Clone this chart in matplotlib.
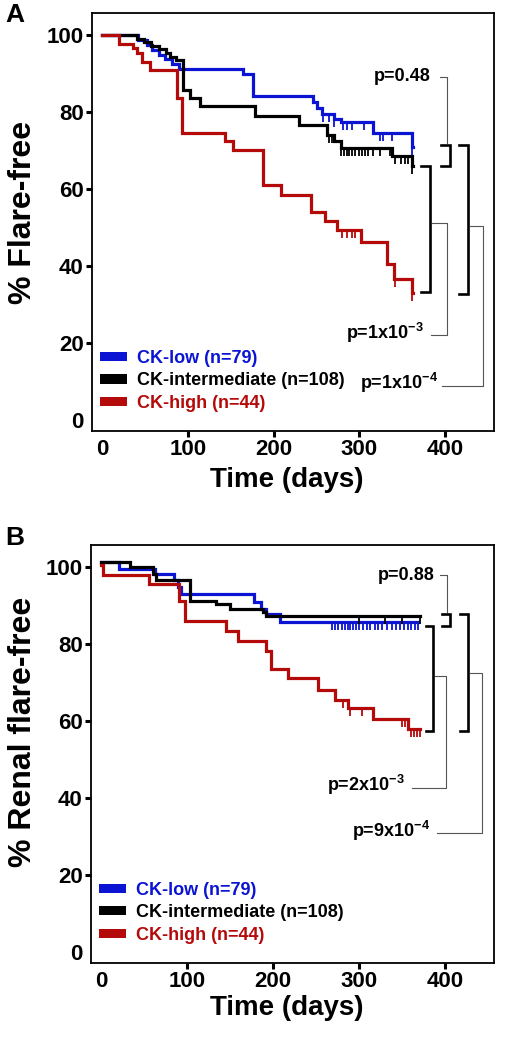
import numpy as np
import matplotlib
matplotlib.use("Agg")
import matplotlib.pyplot as plt
from matplotlib.patches import Patch

plt.rcParams['font.family'] = ['Liberation Sans', 'DejaVu Sans']
plt.rcParams['font.weight'] = 'bold'
plt.rcParams['mathtext.fontset'] = 'custom'
plt.rcParams['mathtext.rm'] = 'Liberation Sans:bold'
plt.rcParams['mathtext.bf'] = 'Liberation Sans:bold'

# ---- data: panel A (any flare) ----
groups = ["CK-low (n=79)", "CK-intermediate (n=108)", "CK-high (n=44)"]
colors = ["#0a14d2", "#000000", "#b50a0a"]

a_low_t = [0, 42, 52, 58, 66, 73, 81, 90, 164, 176, 246, 250, 256, 270, 278, 316, 361, 362]
a_low_s = [100, 98.7, 97.5, 96.2, 94.9, 93.7, 92.4, 91.1, 89.9, 84.2, 82.5, 81.0, 79.6, 78.2, 77.4, 74.6, 71.0, 71.0]
a_low_c = [258, 264, 270, 281, 285, 291, 305, 324, 328, 338, 361]

a_mid_t = [0, 41, 49, 57, 66, 74, 79, 86, 94, 102, 114, 178, 229, 262, 270, 278, 291, 338, 361, 362]
a_mid_s = [100, 99.1, 98.1, 97.2, 96.3, 95.4, 94.4, 93.5, 85.8, 83.6, 81.6, 78.9, 76.7, 74.1, 72.4, 70.7, 70.7, 68.5, 66.0, 66.0]
a_mid_c = [264, 268, 279, 282, 285, 288, 291, 295, 299, 303, 307, 310, 316, 324, 336, 342, 348, 353, 357, 361]

a_high_t = [0, 19, 36, 40, 46, 56, 87, 93, 143, 153, 187, 208, 243, 260, 274, 302, 332, 340, 361, 362]
a_high_s = [100, 97.7, 96.6, 95.3, 93.1, 90.9, 83.6, 74.6, 72.5, 70.2, 61.2, 58.6, 54.0, 51.7, 49.3, 46.3, 40.5, 36.6, 33.0, 33.0]
a_high_c = [280, 285, 291, 295, 342, 361]

a_pvals = ["p=0.48", r"p=1x10$^{-3}$", r"p=1x10$^{-4}$"]

# ---- data: panel B (renal flare) ----
b_low_t = [0, 21, 62, 85, 89, 93, 178, 186, 192, 208, 369]
b_low_s = [101.3, 99.6, 98.3, 96.5, 94.8, 93.0, 90.8, 89.1, 87.8, 85.8, 85.8]
b_low_c = [268, 272, 276, 280, 284, 287, 290, 293, 296, 300, 305, 309, 313, 318, 322,
           327, 332, 338, 343, 348, 352, 357, 361, 365, 369]

b_mid_t = [0, 33, 60, 64, 103, 134, 150, 188, 192, 371]
b_mid_s = [101.3, 100.0, 98.3, 96.5, 91.3, 90.4, 89.1, 88.2, 87.4, 87.4]
b_mid_c = [300, 330, 350, 371]

b_high_t = [0, 2, 56, 91, 97, 145, 159, 192, 198, 217, 252, 272, 287, 316, 357, 371]
b_high_s = [100.5, 97.8, 95.6, 91.3, 86.1, 83.5, 80.9, 78.3, 73.5, 71.2, 68.1, 65.6, 63.3, 60.5, 57.9, 57.9]
b_high_c = [281, 289, 304, 350, 354, 360, 364, 368, 371]

b_pvals = ["p=0.88", r"p=2x10$^{-3}$", r"p=9x10$^{-4}$"]

x_ticks = [0, 100, 200, 300, 400]
y_ticks = [0, 20, 40, 60, 80, 100]


def km(ax, t, s, cens, color):
    t = np.asarray(t, float)
    s = np.asarray(s, float)
    ax.step(t, s, where='post', color=color, lw=2.3, solid_joinstyle='miter', zorder=3)
    idx = np.searchsorted(t, cens, side='right') - 1
    idx = np.clip(idx, 0, len(s) - 1)
    ax.plot(cens, s[idx], ls='none', marker=3, ms=6, mew=1.3, color=color, zorder=3)


def bracket(ax, x, y0, y1, arm):
    ax.plot([x - arm, x, x, x - arm], [y0, y0, y1, y1], color='black', lw=1.9,
            solid_joinstyle='miter', clip_on=False, zorder=4)


def connector(ax, xs, ys):
    ax.plot(xs, ys, color='#555555', lw=0.8, clip_on=False, zorder=2)


def style(ax, ylabel, ylab_x, ylab_y, xlab_y):
    ax.set_xlim(-12, 457)
    ax.set_ylim(-2.8, 105.7)
    ax.set_xticks(x_ticks)
    ax.set_yticks(y_ticks)
    ax.tick_params(direction='out', length=4, width=2.2, labelsize=16, pad=2)
    ax.yaxis.get_major_ticks()[0].tick1line.set_visible(False)
    ax.xaxis.get_major_ticks()[0].tick1line.set_visible(False)
    for sp in ax.spines.values():
        sp.set_linewidth(1.3)
    ax.set_ylabel(ylabel, fontsize=23, fontweight='bold')
    ax.set_xlabel("Time (days)", fontsize=20, fontweight='bold')
    ax.yaxis.set_label_coords(ylab_x, ylab_y)
    ax.xaxis.set_label_coords(0.485, xlab_y)
    handles = [Patch(facecolor=c, edgecolor='none') for c in colors]
    leg = ax.legend(handles, groups, loc='lower left', bbox_to_anchor=(0.02, 0.045),
                    frameon=False, borderpad=0, borderaxespad=0, handlelength=1.5,
                    handleheight=0.4, handletextpad=0.55, labelspacing=0.32,
                    prop={'weight': 'bold', 'size': 13})
    for txt, c in zip(leg.get_texts(), colors):
        txt.set_color(c)


fig = plt.figure(figsize=(5.06, 10.5), dpi=100)
axA = fig.add_axes([0.1818, 0.5895, 0.7945, 0.398])
axB = fig.add_axes([0.1798, 0.0829, 0.7964, 0.398])

# panel A
km(axA, a_low_t, a_low_s, a_low_c, colors[0])
km(axA, a_mid_t, a_mid_s, a_mid_c, colors[1])
km(axA, a_high_t, a_high_s, a_high_c, colors[2])
style(axA, "% Flare-free", -0.135, 0.524, -0.086)

bracket(axA, 405.8, 71.5, 65.9, 10.8)
bracket(axA, 382.5, 65.9, 33.2, 10.8)
bracket(axA, 426.8, 71.5, 32.7, 10.5)
connector(axA, [394, 402.7, 402.7], [89.1, 89.1, 72.0])
connector(axA, [384.5, 402.7, 402.7, 384], [51.1, 51.1, 22.1, 22.1])
connector(axA, [428.5, 444.7, 444.7, 396], [50.4, 50.4, 9.0, 9.0])
axA.text(382.5, 89.2, a_pvals[0], ha='right', va='center', fontsize=13, fontweight='bold')
axA.text(375, 22.6, a_pvals[1], ha='right', va='center', fontsize=13, fontweight='bold')
axA.text(392, 9.6, a_pvals[2], ha='right', va='center', fontsize=13, fontweight='bold')

# panel B
km(axB, b_low_t, b_low_s, b_low_c, colors[0])
km(axB, b_mid_t, b_mid_s, b_mid_c, colors[1])
km(axB, b_high_t, b_high_s, b_high_c, colors[2])
style(axB, "% Renal flare-free", -0.132, 0.553, -0.077)

bracket(axB, 405.8, 87.8, 84.8, 9.8)
bracket(axB, 386.4, 84.8, 57.4, 8.6)
bracket(axB, 427.2, 87.8, 57.4, 9.7)
connector(axB, [394, 402.7, 402.7], [97.8, 97.8, 88.2])
connector(axB, [388.3, 401.2, 401.2, 361.2], [71.7, 71.7, 42.6, 42.6])
connector(axB, [429, 442.8, 442.8, 390.3], [72.6, 72.6, 30.9, 30.9])
axB.text(388, 97.8, b_pvals[0], ha='right', va='center', fontsize=13, fontweight='bold')
axB.text(353.4, 43.4, b_pvals[1], ha='right', va='center', fontsize=13, fontweight='bold')
axB.text(382.5, 31.4, b_pvals[2], ha='right', va='center', fontsize=13, fontweight='bold')

fig.text(5 / 506, 1 - 3 / 1050, "A", fontsize=19, fontweight='bold', va='top', ha='left')
fig.text(5 / 506, 1 - 526 / 1050, "B", fontsize=19, fontweight='bold', va='top', ha='left')

fig.savefig("out.png", dpi=100)
